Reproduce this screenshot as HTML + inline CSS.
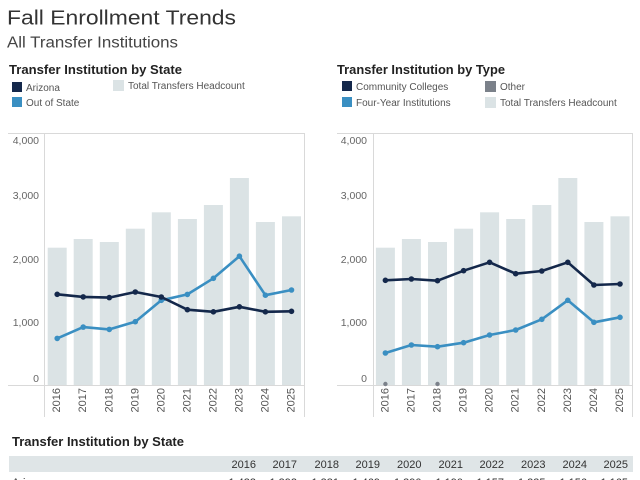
<!DOCTYPE html>
<html>
<head>
<meta charset="utf-8">
<style>
  html,body{margin:0;padding:0;background:#fff;}
  body{width:640px;height:480px;overflow:hidden;}
  svg{display:block;font-family:"Liberation Sans",sans-serif;}
</style>
</head>
<body>
<svg width="640" height="480" viewBox="0 0 640 480" xmlns="http://www.w3.org/2000/svg">
  <!-- Titles -->
  <text x="7" y="24.5" font-size="20.5" fill="#333" textLength="229" lengthAdjust="spacingAndGlyphs">Fall Enrollment Trends</text>
  <text x="7" y="47.5" font-size="15.5" fill="#444" textLength="171" lengthAdjust="spacingAndGlyphs">All Transfer Institutions</text>

  <!-- Left legend -->
  <text x="9" y="74" font-size="13" font-weight="bold" fill="#222" textLength="173" lengthAdjust="spacingAndGlyphs">Transfer Institution by State</text>
  <rect x="12" y="82" width="10" height="10" fill="#14284b"/>
  <text x="26" y="91" font-size="10" fill="#555">Arizona</text>
  <rect x="12" y="97" width="10" height="10" fill="#3a8fc2"/>
  <text x="26" y="106" font-size="10" fill="#555">Out of State</text>
  <rect x="113" y="80" width="11" height="11" fill="#dbe3e5"/>
  <text x="128" y="89" font-size="10" fill="#555">Total Transfers Headcount</text>

  <!-- Right legend -->
  <text x="337" y="74" font-size="13" font-weight="bold" fill="#222" textLength="168" lengthAdjust="spacingAndGlyphs">Transfer Institution by Type</text>
  <rect x="342" y="81" width="10" height="10" fill="#14284b"/>
  <text x="356" y="90" font-size="10" fill="#555">Community Colleges</text>
  <rect x="342" y="97" width="10" height="10" fill="#3a8fc2"/>
  <text x="356" y="106" font-size="10" fill="#555">Four-Year Institutions</text>
  <rect x="485" y="81" width="11" height="11" fill="#7b818a"/>
  <text x="500" y="90" font-size="10" fill="#555">Other</text>
  <rect x="485" y="97" width="11" height="11" fill="#dbe3e5"/>
  <text x="500" y="106" font-size="10" fill="#555">Total Transfers Headcount</text>

  <!-- ===== LEFT CHART ===== -->
  <g stroke="#d9d9d9" stroke-width="1" fill="none">
    <line x1="8" y1="133.5" x2="305" y2="133.5"/>
    <line x1="44.5" y1="133" x2="44.5" y2="417"/>
    <line x1="304.5" y1="133" x2="304.5" y2="417"/>
    <line x1="8" y1="385.5" x2="305" y2="385.5"/>
  </g>
  <g font-size="10.5" fill="#666" text-anchor="end">
    <text x="39" y="144">4,000</text>
    <text x="39" y="199">3,000</text>
    <text x="39" y="263">2,000</text>
    <text x="39" y="326">1,000</text>
    <text x="39" y="382">0</text>
  </g>
  <g fill="#dbe3e5">
    <rect x="47.7" y="247.7" width="19" height="137.3"/>
    <rect x="73.7" y="239" width="19" height="146"/>
    <rect x="99.8" y="242" width="19" height="143"/>
    <rect x="125.8" y="228.7" width="19" height="156.3"/>
    <rect x="151.8" y="212.3" width="19" height="172.7"/>
    <rect x="177.9" y="219" width="19" height="166"/>
    <rect x="203.9" y="205" width="19" height="180"/>
    <rect x="229.9" y="178" width="19" height="207"/>
    <rect x="255.9" y="222" width="19" height="163"/>
    <rect x="282" y="216.3" width="19" height="168.7"/>
  </g>
  <!-- Out of State -->
  <polyline fill="none" stroke="#3a8fc2" stroke-width="2.6" stroke-linejoin="round"
    points="57.2,338.4 83.2,327.1 109.3,329.4 135.3,321.7 161.3,300.3 187.4,294.4 213.4,278.3 239.4,256.2 265.4,295.2 291.5,290"/>
  <g fill="#3a8fc2">
    <circle cx="57.2" cy="338.4" r="2.8"/><circle cx="83.2" cy="327.1" r="2.8"/><circle cx="109.3" cy="329.4" r="2.8"/>
    <circle cx="135.3" cy="321.7" r="2.8"/><circle cx="161.3" cy="300.3" r="2.8"/><circle cx="187.4" cy="294.4" r="2.8"/>
    <circle cx="213.4" cy="278.3" r="2.8"/><circle cx="239.4" cy="256.2" r="2.8"/><circle cx="265.4" cy="295.2" r="2.8"/>
    <circle cx="291.5" cy="290" r="2.8"/>
  </g>
  <!-- Arizona -->
  <polyline fill="none" stroke="#14284b" stroke-width="2.6" stroke-linejoin="round"
    points="57.2,294.3 83.2,296.9 109.3,297.6 135.3,292 161.3,297 187.4,309.7 213.4,311.8 239.4,306.8 265.4,311.8 291.5,311.3"/>
  <g fill="#14284b">
    <circle cx="57.2" cy="294.3" r="2.8"/><circle cx="83.2" cy="296.9" r="2.8"/><circle cx="109.3" cy="297.6" r="2.8"/>
    <circle cx="135.3" cy="292" r="2.8"/><circle cx="161.3" cy="297" r="2.8"/><circle cx="187.4" cy="309.7" r="2.8"/>
    <circle cx="213.4" cy="311.8" r="2.8"/><circle cx="239.4" cy="306.8" r="2.8"/><circle cx="265.4" cy="311.8" r="2.8"/>
    <circle cx="291.5" cy="311.3" r="2.8"/>
  </g>
  <g font-size="11" fill="#555" text-anchor="end" dominant-baseline="central">
    <text transform="translate(57.2,388) rotate(-90)">2016</text>
    <text transform="translate(83.2,388) rotate(-90)">2017</text>
    <text transform="translate(109.3,388) rotate(-90)">2018</text>
    <text transform="translate(135.3,388) rotate(-90)">2019</text>
    <text transform="translate(161.3,388) rotate(-90)">2020</text>
    <text transform="translate(187.4,388) rotate(-90)">2021</text>
    <text transform="translate(213.4,388) rotate(-90)">2022</text>
    <text transform="translate(239.4,388) rotate(-90)">2023</text>
    <text transform="translate(265.4,388) rotate(-90)">2024</text>
    <text transform="translate(291.5,388) rotate(-90)">2025</text>
  </g>

  <!-- ===== RIGHT CHART ===== -->
  <g stroke="#d9d9d9" stroke-width="1" fill="none">
    <line x1="337" y1="133.5" x2="633" y2="133.5"/>
    <line x1="373.5" y1="133" x2="373.5" y2="417"/>
    <line x1="632.5" y1="133" x2="632.5" y2="417"/>
    <line x1="337" y1="385.5" x2="633" y2="385.5"/>
  </g>
  <g font-size="10.5" fill="#666" text-anchor="end">
    <text x="367" y="144">4,000</text>
    <text x="367" y="199">3,000</text>
    <text x="367" y="263">2,000</text>
    <text x="367" y="326">1,000</text>
    <text x="367" y="382">0</text>
  </g>
  <g fill="#dbe3e5">
    <rect x="375.9" y="247.7" width="19" height="137.3"/>
    <rect x="401.9" y="239" width="19" height="146"/>
    <rect x="428" y="242" width="19" height="143"/>
    <rect x="454.1" y="228.7" width="19" height="156.3"/>
    <rect x="480.1" y="212.3" width="19" height="172.7"/>
    <rect x="506.2" y="219" width="19" height="166"/>
    <rect x="532.3" y="205" width="19" height="180"/>
    <rect x="558.3" y="178" width="19" height="207"/>
    <rect x="584.4" y="222" width="19" height="163"/>
    <rect x="610.5" y="216.3" width="19" height="168.7"/>
  </g>
  <!-- Other -->
  <g fill="#7b818a">
    <circle cx="385.4" cy="384" r="2.2"/>
    <circle cx="437.5" cy="384" r="2.2"/>
  </g>
  <!-- Four-Year -->
  <polyline fill="none" stroke="#3a8fc2" stroke-width="2.6" stroke-linejoin="round"
    points="385.4,353 411.4,345 437.5,346.7 463.6,342.7 489.6,335 515.7,330 541.8,319.3 567.8,300.3 593.9,322.3 620,317.3"/>
  <g fill="#3a8fc2">
    <circle cx="385.4" cy="353" r="2.8"/><circle cx="411.4" cy="345" r="2.8"/><circle cx="437.5" cy="346.7" r="2.8"/>
    <circle cx="463.6" cy="342.7" r="2.8"/><circle cx="489.6" cy="335" r="2.8"/><circle cx="515.7" cy="330" r="2.8"/>
    <circle cx="541.8" cy="319.3" r="2.8"/><circle cx="567.8" cy="300.3" r="2.8"/><circle cx="593.9" cy="322.3" r="2.8"/>
    <circle cx="620" cy="317.3" r="2.8"/>
  </g>
  <!-- Community Colleges -->
  <polyline fill="none" stroke="#14284b" stroke-width="2.6" stroke-linejoin="round"
    points="385.4,280.3 411.4,279 437.5,280.7 463.6,270.7 489.6,262.3 515.7,273.7 541.8,271 567.8,262.3 593.9,285 620,284"/>
  <g fill="#14284b">
    <circle cx="385.4" cy="280.3" r="2.8"/><circle cx="411.4" cy="279" r="2.8"/><circle cx="437.5" cy="280.7" r="2.8"/>
    <circle cx="463.6" cy="270.7" r="2.8"/><circle cx="489.6" cy="262.3" r="2.8"/><circle cx="515.7" cy="273.7" r="2.8"/>
    <circle cx="541.8" cy="271" r="2.8"/><circle cx="567.8" cy="262.3" r="2.8"/><circle cx="593.9" cy="285" r="2.8"/>
    <circle cx="620" cy="284" r="2.8"/>
  </g>
  <g font-size="11" fill="#555" text-anchor="end" dominant-baseline="central">
    <text transform="translate(385.4,388) rotate(-90)">2016</text>
    <text transform="translate(411.4,388) rotate(-90)">2017</text>
    <text transform="translate(437.5,388) rotate(-90)">2018</text>
    <text transform="translate(463.6,388) rotate(-90)">2019</text>
    <text transform="translate(489.6,388) rotate(-90)">2020</text>
    <text transform="translate(515.7,388) rotate(-90)">2021</text>
    <text transform="translate(541.8,388) rotate(-90)">2022</text>
    <text transform="translate(567.8,388) rotate(-90)">2023</text>
    <text transform="translate(593.9,388) rotate(-90)">2024</text>
    <text transform="translate(620,388) rotate(-90)">2025</text>
  </g>

  <!-- ===== TABLE ===== -->
  <text x="12" y="446" font-size="12.5" font-weight="bold" fill="#222" textLength="172" lengthAdjust="spacingAndGlyphs">Transfer Institution by State</text>
  <rect x="9" y="456" width="624" height="16" fill="#dfe5e7"/>
  <g font-size="11" fill="#333" text-anchor="end">
    <text x="256" y="468">2016</text>
    <text x="297" y="468">2017</text>
    <text x="339" y="468">2018</text>
    <text x="380" y="468">2019</text>
    <text x="421.5" y="468">2020</text>
    <text x="463" y="468">2021</text>
    <text x="504" y="468">2022</text>
    <text x="545.5" y="468">2023</text>
    <text x="587" y="468">2024</text>
    <text x="628" y="468">2025</text>
  </g>
  <g font-size="11" fill="#333">
    <text x="12" y="486">Arizona</text>
  </g>
  <g font-size="11" fill="#333" text-anchor="end">
    <text x="256" y="486">1,433</text>
    <text x="297" y="486">1,392</text>
    <text x="339" y="486">1,381</text>
    <text x="380" y="486">1,469</text>
    <text x="421.5" y="486">1,390</text>
    <text x="463" y="486">1,190</text>
    <text x="504" y="486">1,157</text>
    <text x="545.5" y="486">1,235</text>
    <text x="587" y="486">1,156</text>
    <text x="628" y="486">1,165</text>
  </g>
</svg>
</body>
</html>
